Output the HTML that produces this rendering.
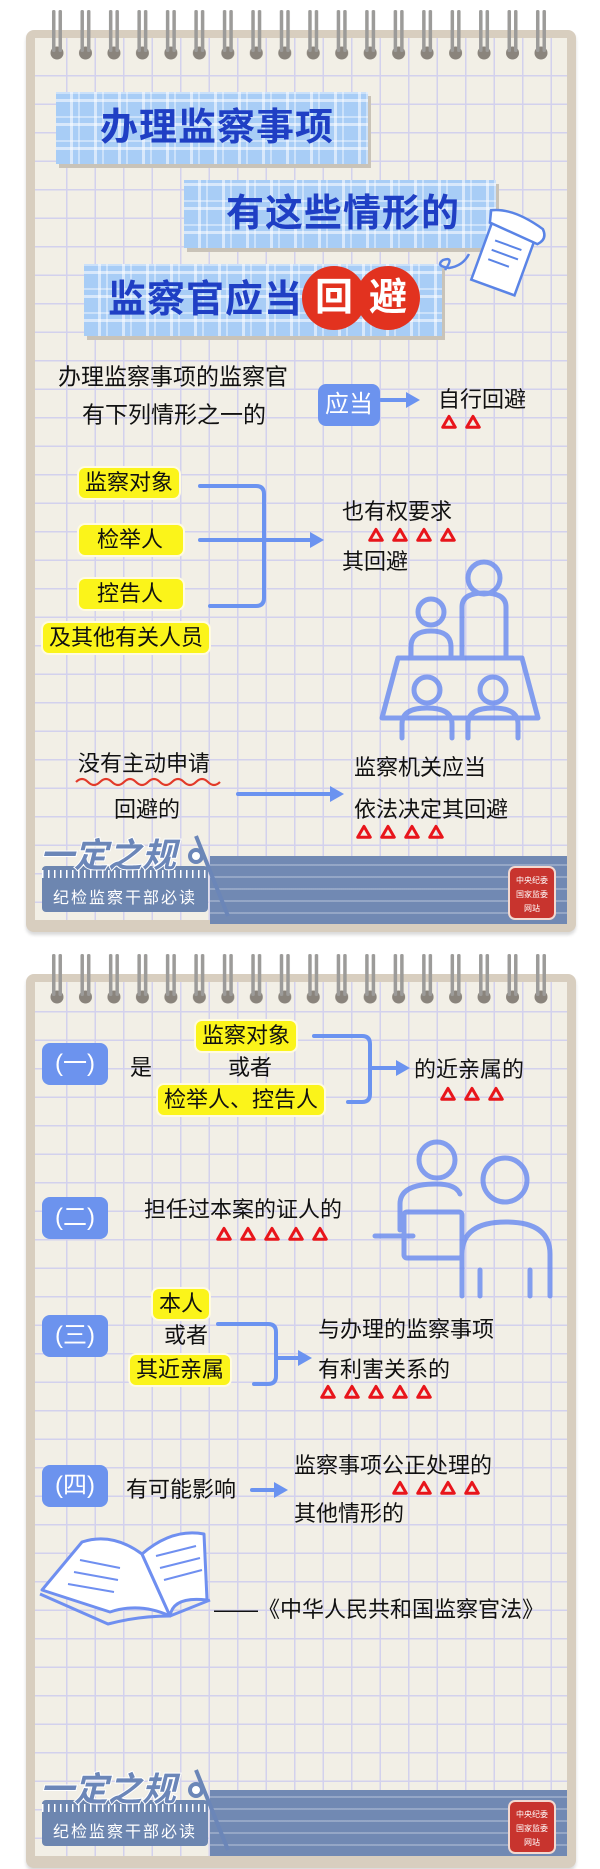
<!DOCTYPE html>
<html><head><meta charset="utf-8"><style>
*{margin:0;padding:0;box-sizing:border-box}
body{width:600px;height:1869px;background:#fff;position:relative;overflow:hidden;font-family:"Liberation Sans","Noto Sans CJK SC",sans-serif;color:#111}
.card{position:absolute;left:26px;width:550px;background:#d8cebf;border-radius:8px;box-shadow:0 3px 3px rgba(0,0,0,.15)}
.paper{position:absolute;left:9px;right:9px;top:8px;bottom:12px;background-color:#f2efe6;
background-image:repeating-linear-gradient(90deg,transparent 0 27px,#d3d1ed 27px 28.5px),repeating-linear-gradient(0deg,transparent 0 27px,#d3d1ed 27px 28.5px);background-position:4px 10px}
.t{position:absolute;white-space:nowrap;font-size:22px;line-height:1;transform:translateY(-50%)}
.y{background:#fbf41a;border-radius:6px;padding:4px 6px;box-shadow:0 0 0 2px #fffbe0}
.num{position:absolute;left:42px;width:66px;height:42px;background:#6c93ee;border-radius:8px;color:#fff;font-size:24px;text-align:center;line-height:42px;transform:translateY(-50%)}
.band{position:absolute;background-color:#a8cdf6;background-image:repeating-linear-gradient(90deg,transparent 0 14px,rgba(255,255,255,.55) 14px 17px,transparent 17px 22px,rgba(255,255,255,.4) 22px 24px),repeating-linear-gradient(0deg,transparent 0 14px,rgba(255,255,255,.55) 14px 17px,transparent 17px 22px,rgba(255,255,255,.4) 22px 24px);box-shadow:3px 4px 0 #c9c3b8}
.tt{position:absolute;font-size:38px;font-weight:bold;color:#1f3fc4;line-height:1;white-space:nowrap;letter-spacing:1px;transform:translateY(-50%)}
.red{position:absolute;width:64px;height:64px;border-radius:50%;background:#e2321f;color:#fff;font-size:38px;font-weight:bold;text-align:center;line-height:64px}
.logo{position:absolute;font-size:34px;font-weight:bold;color:#6b86b8;-webkit-text-stroke:2px #fff;paint-order:stroke fill;white-space:nowrap;font-style:italic}
.rul{position:absolute;background:#6d86b0;border-radius:4px;color:#fff;font-size:16px;letter-spacing:2px;padding-top:18px;text-align:center;white-space:nowrap;background-image:repeating-linear-gradient(90deg,#fff 0 1.5px,transparent 1.5px 6px);background-size:100% 8px;background-repeat:no-repeat;background-position:0 4px}
.stripe{position:absolute;background:#7189b3;background-image:repeating-linear-gradient(0deg,transparent 0 10px,rgba(255,255,255,.25) 10px 12px)}
.seal{position:absolute;width:48px;height:54px;background:#c8342e;border-radius:7px;border:2px solid #f3d9d0;color:#fff;font-size:8px;text-align:center;line-height:14px;padding-top:6px}
</style></head><body>
<svg width="0" height="0" style="position:absolute"><defs>
<pattern id="rings" x="43" y="0" width="28.47" height="60" patternUnits="userSpaceOnUse">
<circle cx="14" cy="43" r="6.5" fill="#8a847c"/>
<rect x="9" y="0" width="3.5" height="42" rx="1.5" fill="#9c9b99"/><rect x="15.5" y="0" width="3.5" height="42" rx="1.5" fill="#9c9b99"/>
</pattern>
<symbol id="tri" viewBox="0 0 14 13"><polygon points="7,2 12.5,11.5 1.5,11.5" fill="none" stroke="#e8151b" stroke-width="2.6" stroke-linejoin="round"/></symbol>
</defs></svg>

<!-- CARD 1 -->
<div class="card" style="top:30px;height:902px"><div class="paper"></div></div>
<svg style="position:absolute;left:0;top:10px" width="600" height="60"><rect x="50" y="0" width="500" height="60" fill="url(#rings)"/></svg>

<div class="band" style="left:56px;top:92px;width:312px;height:72px"></div>
<div class="tt" style="left:100px;top:128px">办理监察事项</div>
<div class="band" style="left:184px;top:180px;width:312px;height:68px"></div>
<div class="tt" style="left:226px;top:214px">有这些情形的</div>
<div class="band" style="left:84px;top:264px;width:358px;height:72px"></div>
<div class="tt" style="left:108px;top:300px">监察官应当</div>
<div class="red" style="left:302px;top:266px">回</div>
<div class="red" style="left:356px;top:266px">避</div>
<svg style="position:absolute;left:415px;top:200px" width="140" height="120" viewBox="0 0 140 120">
<path d="M30 70 q10 -14 -2 -10 q-8 6 6 8 q14 -2 20 -14" fill="none" stroke="#5a84e6" stroke-width="2.5"/>
<g transform="rotate(20 90 60)"><rect x="65" y="20" width="46" height="70" fill="#fff" stroke="#5a84e6" stroke-width="2.5"/>
<path d="M74 45h28M74 55h28M74 65h22" stroke="#5a84e6" stroke-width="2"/>
<path d="M60 18 q20 -10 55 0 q8 8 0 16 l-52 -4 z" fill="#fff" stroke="#5a84e6" stroke-width="2.5"/></g>
</svg>

<div class="t" style="left:58px;top:377px;font-size:23px">办理监察事项的监察官</div>
<div class="t" style="left:82px;top:415px;font-size:23px">有下列情形之一的</div>
<div style="position:absolute;left:318px;top:384px;width:62px;height:42px;background:#6c93ee;border-radius:8px;color:#fff;font-size:24px;text-align:center;line-height:42px">应当</div>
<div class="t" style="left:438px;top:400px">自行回避</div>

<div class="t y" style="left:79px;top:483px">监察对象</div>
<div class="t y" style="left:79px;top:540px;padding-left:18px;padding-right:20px">检举人</div>
<div class="t y" style="left:79px;top:594px;padding-left:18px;padding-right:20px">控告人</div>
<div class="t y" style="left:43px;top:638px">及其他有关人员</div>
<div class="t" style="left:342px;top:512px">也有权要求</div>
<div class="t" style="left:342px;top:562px">其回避</div>

<div class="t" style="left:78px;top:764px">没有主动申请</div>
<div class="t" style="left:114px;top:810px">回避的</div>
<div class="t" style="left:354px;top:768px">监察机关应当</div>
<div class="t" style="left:354px;top:810px">依法决定其回避</div>

<div class="stripe" style="left:210px;top:856px;width:357px;height:68px"></div>
<div class="rul" style="left:42px;top:866px;width:166px;height:46px">纪检监察干部必读</div>
<div class="logo" style="left:40px;top:828px">一定之规</div>
<div class="seal" style="left:508px;top:866px">中央纪委<br>国家监委<br>网站</div>

<!-- CARD 2 -->
<div class="card" style="top:974px;height:894px"><div class="paper"></div></div>
<svg style="position:absolute;left:0;top:954px" width="600" height="60"><rect x="50" y="0" width="500" height="60" fill="url(#rings)"/></svg>

<div class="num" style="top:1064px">(一)</div>
<div class="t" style="left:130px;top:1068px">是</div>
<div class="t y" style="left:196px;top:1036px">监察对象</div>
<div class="t" style="left:228px;top:1068px">或者</div>
<div class="t y" style="left:158px;top:1100px">检举人、控告人</div>
<div class="t" style="left:414px;top:1070px">的近亲属的</div>

<div class="num" style="top:1218px">(二)</div>
<div class="t" style="left:144px;top:1210px">担任过本案的证人的</div>

<div class="num" style="top:1336px">(三)</div>
<div class="t y" style="left:153px;top:1304px">本人</div>
<div class="t" style="left:164px;top:1336px">或者</div>
<div class="t y" style="left:130px;top:1370px">其近亲属</div>
<div class="t" style="left:318px;top:1330px">与办理的监察事项</div>
<div class="t" style="left:318px;top:1370px">有利害关系的</div>

<div class="num" style="top:1486px">(四)</div>
<div class="t" style="left:126px;top:1490px">有可能影响</div>
<div class="t" style="left:294px;top:1466px">监察事项公正处理的</div>
<div class="t" style="left:294px;top:1514px">其他情形的</div>
<div class="t" style="left:214px;top:1610px">——《中华人民共和国监察官法》</div>

<div class="stripe" style="left:210px;top:1790px;width:357px;height:66px"></div>
<div class="rul" style="left:42px;top:1800px;width:166px;height:46px">纪检监察干部必读</div>
<div class="logo" style="left:40px;top:1762px">一定之规</div>
<div class="seal" style="left:508px;top:1800px">中央纪委<br>国家监委<br>网站</div>

<!-- lines, arrows, icons -->
<svg style="position:absolute;left:0;top:0" width="600" height="1869">
<g fill="none" stroke="#6b93f0" stroke-width="4" stroke-linecap="round" stroke-linejoin="round">
<path d="M381 400h30"/>
<path d="M200 486h56q8 0 8 8v104q0 8 -8 8h-46"/><path d="M200 540h114"/>
<path d="M238 794h96"/>
<path d="M314 1036h48q8 0 8 8v50q0 8 -8 8h-14"/><path d="M370 1068h30"/>
<path d="M218 1324h50q8 0 8 8v44q0 8 -8 8h-14"/><path d="M276 1358h28"/>
<path d="M252 1490h26"/>
</g>
<g fill="#6b93f0">
<polygon points="420,400 406,392 406,408"/><polygon points="324,540 310,532 310,548"/>
<polygon points="344,794 330,786 330,802"/><polygon points="410,1068 396,1060 396,1076"/>
<polygon points="312,1358 298,1350 298,1366"/><polygon points="288,1490 274,1482 274,1498"/>
</g>
<path d="M76 782q6 -6 12 0t12 0t12 0t12 0t12 0t12 0t12 0t12 0t12 0t12 0t12 0t12 0" fill="none" stroke="#e23a2a" stroke-width="2.2"/>
<g>
<use href="#tri" x="441" y="414" width="16" height="15"/><use href="#tri" x="465" y="414" width="16" height="15"/>
<use href="#tri" x="368" y="527" width="16" height="15"/><use href="#tri" x="392" y="527" width="16" height="15"/><use href="#tri" x="416" y="527" width="16" height="15"/><use href="#tri" x="440" y="527" width="16" height="15"/>
<use href="#tri" x="356" y="824" width="16" height="15"/><use href="#tri" x="380" y="824" width="16" height="15"/><use href="#tri" x="404" y="824" width="16" height="15"/><use href="#tri" x="428" y="824" width="16" height="15"/>
<use href="#tri" x="440" y="1086" width="16" height="15"/><use href="#tri" x="464" y="1086" width="16" height="15"/><use href="#tri" x="488" y="1086" width="16" height="15"/>
<use href="#tri" x="216" y="1226" width="16" height="15"/><use href="#tri" x="240" y="1226" width="16" height="15"/><use href="#tri" x="264" y="1226" width="16" height="15"/><use href="#tri" x="288" y="1226" width="16" height="15"/><use href="#tri" x="312" y="1226" width="16" height="15"/>
<use href="#tri" x="320" y="1384" width="16" height="15"/><use href="#tri" x="344" y="1384" width="16" height="15"/><use href="#tri" x="368" y="1384" width="16" height="15"/><use href="#tri" x="392" y="1384" width="16" height="15"/><use href="#tri" x="416" y="1384" width="16" height="15"/>
<use href="#tri" x="392" y="1480" width="16" height="15"/><use href="#tri" x="416" y="1480" width="16" height="15"/><use href="#tri" x="440" y="1480" width="16" height="15"/><use href="#tri" x="464" y="1480" width="16" height="15"/>
</g>
<g fill="none" stroke="#6f8ff0" stroke-width="5" stroke-linecap="round" stroke-linejoin="round" opacity=".85">
<circle cx="431" cy="612" r="13"/><path d="M411 657v-10q0-16 20-16q20 0 20 16v10"/>
<circle cx="484" cy="578" r="16"/><path d="M462 657v-50q0-14 22-14q22 0 22 14v50"/>
<path d="M398 658h124l16 60h-156z"/>
<circle cx="427" cy="690" r="13"/><path d="M402 738v-14q0-16 25-16q25 0 25 16v14"/>
<circle cx="493" cy="690" r="13"/><path d="M468 738v-14q0-16 25-16q25 0 25 16v14"/>
</g>
<g fill="none" stroke="#6f8ff0" stroke-width="5" stroke-linecap="round" stroke-linejoin="round" opacity=".85">
<circle cx="437" cy="1160" r="18"/><circle cx="505" cy="1180" r="22"/>
<path d="M400 1230v-26q0-20 36-20q20 0 24 10"/>
<path d="M375 1236h38"/><rect x="404" y="1212" width="58" height="46" rx="3"/>
<path d="M462 1296v-42q0-32 44-32q44 0 44 32v42M480 1270v26M530 1270v26"/>
</g>
<g fill="#fff" stroke="#6f8ff0" stroke-width="3" stroke-linejoin="round">
<path d="M42 1590l40 -48q30 -10 60 12l28 62q-30 -14 -60 -4z"/>
<path d="M142 1554q30 -26 62 -20l3 66q-34 -4 -37 16z"/>
<path d="M40 1594l68 30q30 -8 62 -8l40 -16" fill="none"/>
</g>
<g stroke="#6f8ff0" stroke-width="2"><path d="M80 1560l40 8M74 1572l44 8M68 1584l46 8M156 1556l40 -10M160 1568l40 -10M164 1580l38 -10"/></g>
<g stroke="#6b86b8" stroke-width="4" fill="#fff"><path d="M196 836l32 80M196 1770l32 80"/><circle cx="196" cy="856" r="6"/><circle cx="196" cy="1790" r="6"/></g>
</svg>
</body></html>
